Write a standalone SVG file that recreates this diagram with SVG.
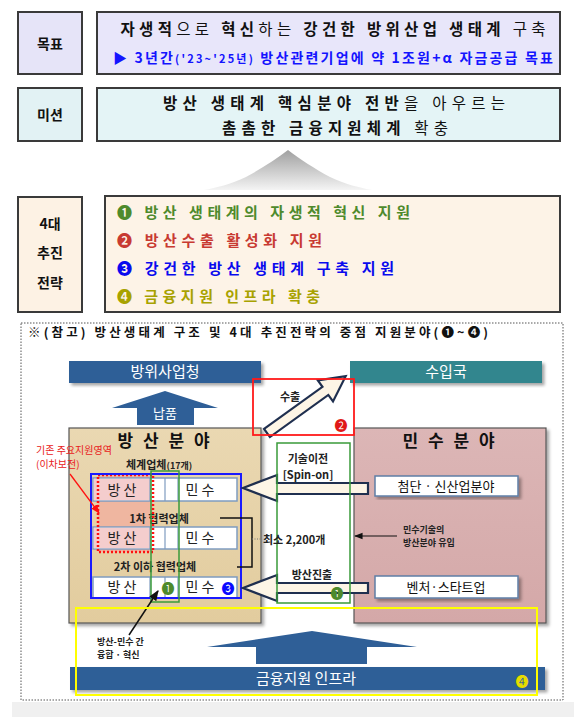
<svg xmlns="http://www.w3.org/2000/svg" width="574" height="717" viewBox="0 0 574 717">
<defs>
<style>
text{font-family:"Noto Sans CJK KR","Noto Sans",sans-serif;}
.b{font-weight:bold;}
.hdr{fill:#ffffff;font-size:15px;text-anchor:middle;}
.lbl{font-size:14px;font-weight:bold;text-anchor:middle;fill:#111;}
.cell{font-size:14px;text-anchor:middle;fill:#222;}
.sm{font-size:11px;font-weight:bold;fill:#222;}
.tiny{font-size:9px;font-weight:bold;fill:#222;}
.box{stroke:#3a3a3a;stroke-width:2;}
.row{fill:#ffffff;stroke:#7f9cc0;stroke-width:1.5;}
.div{stroke:#7f9cc0;stroke-width:1.2;}
.fat{fill:#fdf5e6;stroke:#1f2f4f;stroke-width:2.2;stroke-linejoin:miter;}
</style>
<linearGradient id="gArr" x1="0" y1="0" x2="0" y2="1">
<stop offset="0" stop-color="#a0a0a0"/>
<stop offset="1" stop-color="#f4f4f4"/>
</linearGradient>
<linearGradient id="gBeige" x1="0" y1="0" x2="0" y2="1">
<stop offset="0" stop-color="#ead8b2"/>
<stop offset="1" stop-color="#e2cc9e"/>
</linearGradient>
<linearGradient id="gPink" x1="0" y1="0" x2="0" y2="1">
<stop offset="0" stop-color="#dcb6b6"/>
<stop offset="1" stop-color="#d4a8a8"/>
</linearGradient>
<filter id="sh" x="-10%" y="-10%" width="125%" height="130%">
<feDropShadow dx="2.5" dy="2.5" stdDeviation="1.5" flood-color="#000" flood-opacity="0.35"/>
</filter>
<marker id="ah" viewBox="0 0 10 10" refX="9" refY="5" markerWidth="7" markerHeight="7" orient="auto">
<path d="M0,1 L10,5 L0,9 Z" fill="#111"/>
</marker>
<marker id="ahr" viewBox="0 0 10 10" refX="9" refY="5" markerWidth="7" markerHeight="7" orient="auto">
<path d="M0,1 L10,5 L0,9 Z" fill="#ff1010"/>
</marker>
</defs>
<rect width="574" height="717" fill="#ffffff"/>

<!-- Goal -->
<g id="goal-label">
<rect class="box" x="18" y="12" width="64" height="62" fill="#e6e4f8"/>
<text class="lbl" x="50" y="49" font-size="15">목표</text>
</g>
<g id="goal">
<rect class="box" x="97" y="12" width="463" height="62" fill="#e8e6fa"/>
<text x="333" y="35" font-size="15.5" text-anchor="middle" fill="#111" textLength="425" lengthAdjust="spacing"><tspan class="b">자생적</tspan>으로 <tspan class="b">혁신</tspan>하는 <tspan class="b">강건한 방위산업 생태계</tspan> 구축</text>
<text x="333" y="63" font-size="14" text-anchor="middle" fill="#1414ff" class="b" textLength="440" lengthAdjust="spacing">▶ 3년간<tspan font-size="11">('23~'25년)</tspan> 방산관련기업에 약 1조원+α 자금공급 목표</text>
</g>

<!-- Mission -->
<g id="mission-label">
<rect class="box" x="18" y="88" width="64" height="53" fill="#e2f2f4"/>
<text class="lbl" x="50" y="120" font-size="15">미션</text>
</g>
<g id="mission">
<rect class="box" x="97" y="88" width="463" height="53" fill="#e4f4f6"/>
<text x="334" y="109" font-size="15.5" text-anchor="middle" fill="#111" textLength="342" lengthAdjust="spacing"><tspan class="b">방산 생태계 핵심분야 전반</tspan>을 아우르는</text>
<text x="335" y="134" font-size="15.5" text-anchor="middle" fill="#111" textLength="226" lengthAdjust="spacing"><tspan class="b">촘촘한 금융지원체계</tspan> 확충</text>
</g>

<!-- gray up arrow -->
<path d="M288,150 C300,159 315,169 330,177 C345,184 360,188 372,190 L204,190 C216,188 231,184 246,177 C261,169 276,159 288,150 Z" fill="url(#gArr)"/>

<!-- Strategies -->
<g id="strategy-label">
<rect class="box" x="18" y="197" width="64" height="115" fill="#fdf2e4"/>
<text class="lbl" x="50" y="229" font-size="15">4대</text>
<text class="lbl" x="50" y="258" font-size="15">추진</text>
<text class="lbl" x="50" y="288" font-size="15">전략</text>
</g>
<g id="strategies">
<rect class="box" x="105" y="196" width="455" height="116" fill="#fdf3e7"/>
<text x="117" y="218" font-size="15" class="b" fill="#4e8a2c" textLength="293" lengthAdjust="spacing">❶ 방산 생태계의 자생적 혁신 지원</text>
<text x="117" y="246" font-size="15" class="b" fill="#c83a32" textLength="205" lengthAdjust="spacing">❷ 방산수출 활성화 지원</text>
<text x="117" y="274" font-size="15" class="b" fill="#0a0aee" textLength="277" lengthAdjust="spacing">❸ 강건한 방산 생태계 구축 지원</text>
<text x="117" y="302" font-size="15" class="b" fill="#a8a200" textLength="203" lengthAdjust="spacing">❹ 금융지원 인프라 확충</text>
</g>

<!-- Reference panel -->
<rect x="21" y="323" width="542" height="377" fill="none" stroke="#555" stroke-width="1" stroke-dasharray="1.5,1.5"/>
<rect x="12" y="702" width="562" height="15" fill="#f0f0f0"/>
<text x="28" y="337" font-size="12.5" class="b" fill="#111" textLength="460" lengthAdjust="spacing">※(참고) 방산생태계 구조 및 4대 추진전략의 중점 지원분야(❶~❹)</text>

<g id="dapa">
<rect x="69" y="361" width="192" height="22" fill="#2f5f97" filter="url(#sh)"/>
<text class="hdr" x="165" y="377">방위사업청</text>
</g>
<g id="importer">
<rect x="350" y="361" width="192" height="22" fill="#31868e" filter="url(#sh)"/>
<text class="hdr" x="446" y="377">수입국</text>
</g>

<g id="defense-sector">
<rect x="69" y="428" width="192" height="195" fill="url(#gBeige)" stroke="#555" stroke-width="1.2" filter="url(#sh)"/>
<text x="165" y="447" font-size="17" class="b" text-anchor="middle" fill="#111" letter-spacing="3">방 산 분 야</text>
</g>
<g id="civil-sector">
<rect x="354" y="428" width="192" height="195" fill="url(#gPink)" stroke="#555" stroke-width="1.2" filter="url(#sh)"/>
<text x="450" y="447" font-size="17" class="b" text-anchor="middle" fill="#111" letter-spacing="3">민 수 분 야</text>
</g>

<!-- existing support area -->
<text x="36" y="454" font-size="10" fill="#e82020">기존 주요지원영역</text>
<text x="36" y="468" font-size="10" fill="#e82020">(이차보전)</text>
<text x="126" y="469" class="sm" font-size="11.5">체계업체<tspan font-size="9">(17개)</tspan></text>

<rect x="98" y="475" width="55" height="77" fill="#efb6a0"/>

<g id="tier0">
<rect class="row" x="93" y="478" width="144" height="23"/>
<rect x="93.8" y="478.8" width="56.2" height="21.4" fill="#f4cdcd"/>
<line class="div" x1="150" y1="478" x2="150" y2="501"/>
<line class="div" x1="165" y1="478" x2="165" y2="501"/>
<line class="div" x1="178" y1="478" x2="178" y2="501"/>
<text class="cell" x="122" y="495">방 산</text>
<text class="cell" x="200" y="495">민 수</text>
</g>
<text x="159" y="523" class="sm" font-size="12" text-anchor="middle">1차 협력업체</text>
<g id="tier1">
<rect class="row" x="93" y="527" width="144" height="22"/>
<rect x="93.8" y="527.8" width="56.2" height="20.4" fill="#f4cdcd"/>
<line class="div" x1="150" y1="527" x2="150" y2="549"/>
<line class="div" x1="165" y1="527" x2="165" y2="549"/>
<line class="div" x1="178" y1="527" x2="178" y2="549"/>
<text class="cell" x="122" y="543">방 산</text>
<text class="cell" x="200" y="543">민 수</text>
</g>
<text x="155" y="571" class="sm" font-size="12" text-anchor="middle">2차 이하 협력업체</text>
<g id="tier2">
<rect class="row" x="93" y="577" width="144" height="21"/>
<line class="div" x1="150" y1="577" x2="150" y2="598"/>
<line class="div" x1="165" y1="577" x2="165" y2="598"/>
<line class="div" x1="178" y1="577" x2="178" y2="598"/>
<text class="cell" x="122" y="592">방 산</text>
<text class="cell" x="200" y="592">민 수</text>
<text x="168" y="592.5" font-size="13" text-anchor="middle" fill="#4e8a2c">❶</text>
<text x="228" y="592.5" font-size="13" text-anchor="middle" fill="#0a0aff">❸</text>
</g>

<rect x="98" y="475" width="55" height="77" fill="none" stroke="#ff1010" stroke-width="2.5" stroke-dasharray="2,2"/>
<rect x="91" y="474" width="150" height="124" fill="none" stroke="#1a1aff" stroke-width="2"/>
<rect x="151" y="471" width="28" height="131" fill="none" stroke="#3a9a3a" stroke-width="1.5"/>

<g id="civil-boxes">
<g id="hightech">
<rect x="375" y="476" width="143" height="20" fill="#fff" stroke="#5f7fa7" stroke-width="1.5" filter="url(#sh)"/>
<text x="446" y="491" font-size="13" text-anchor="middle" fill="#111">첨단 · 신산업분야</text>
</g>
<g id="venture">
<rect x="375" y="576" width="143" height="22" fill="#fff" stroke="#5f7fa7" stroke-width="1.5" filter="url(#sh)"/>
<text x="446" y="592" font-size="13" text-anchor="middle" fill="#111">벤처·스타트업</text>
</g>
</g>

<g id="connectors">
<!-- 납품 -->
<polygon points="165,391 112,408 137,408 137,425 194,425 194,408 218,408" fill="#2f5f97"/>
<text x="165" y="418" font-size="13" fill="#fff" text-anchor="middle">납품</text>
<!-- export -->
<polygon class="fat" transform="translate(267,433) rotate(-35.8)" points="0,-5 72,-5 72,-13 97,0 72,13 72,5 0,5"/>
<!-- spin-on -->
<polygon class="fat" points="243,488 277,475 277,483 368,483 368,494 277,494 277,501"/>
<!-- 방산진출 -->
<polygon class="fat" points="243,588 277,575 277,583 368,583 368,593 277,593 277,601"/>
<!-- bracket -->
<path d="M220,518 H252 V567 H237" fill="none" stroke="#111" stroke-width="1.5"/>
<line x1="252" y1="539" x2="261" y2="539" stroke="#777" stroke-width="1" stroke-dasharray="1,1.5"/>
<!-- 민수기술 유입 -->
<line x1="397" y1="536" x2="355" y2="536" stroke="#111" stroke-width="1.2" marker-end="url(#ah)"/>
<!-- red label pointer -->
<line x1="70" y1="474" x2="99" y2="513" stroke="#ff1010" stroke-width="1.3" marker-end="url(#ahr)"/>
<!-- 융합 pointer -->
<line x1="129" y1="635" x2="158" y2="591" stroke="#111" stroke-width="1.5" marker-end="url(#ah)"/>
<!-- big finance arrow -->
<polygon points="312,631 207,647 256,647 256,664 367,664 367,647 417,647" fill="#2f5f97"/>
</g>

<rect x="277" y="443" width="73" height="160" fill="none" stroke="#3a9a3a" stroke-width="1.5"/>
<text x="308" y="463" class="sm" font-size="10.5" text-anchor="middle">기술이전</text>
<text x="308" y="479" class="sm" font-size="10.5" text-anchor="middle">[Spin-on]</text>
<text x="263" y="544" class="sm">최소 2,200개</text>
<text x="312" y="579" class="sm" text-anchor="middle">방산진출</text>
<text x="337" y="597.5" font-size="13" text-anchor="middle" fill="#4e8a2c">❶</text>
<text x="403" y="533" class="tiny">민수기술의</text>
<text x="403" y="546" class="tiny">방산분야 유입</text>

<rect x="253" y="379" width="101" height="56" fill="none" stroke="#ff1a1a" stroke-width="1.8"/>
<text x="290" y="401" class="sm" text-anchor="middle">수출</text>
<text x="341" y="430" font-size="13" text-anchor="middle" fill="#e01818">❷</text>

<g id="finance">
<rect x="70" y="667" width="475" height="23" fill="#2f5f97" filter="url(#sh)"/>
<text class="hdr" x="306" y="684">금융지원 인프라</text>
<text x="522" y="685.5" font-size="13" text-anchor="middle" fill="#e6dc00">❹</text>
</g>
<text x="97" y="645" class="tiny">방산-민수 간</text>
<text x="97" y="658" class="tiny">융합 · 혁신</text>
<rect x="76" y="608" width="461" height="87" fill="none" stroke="#ffff00" stroke-width="2"/>
</svg>
